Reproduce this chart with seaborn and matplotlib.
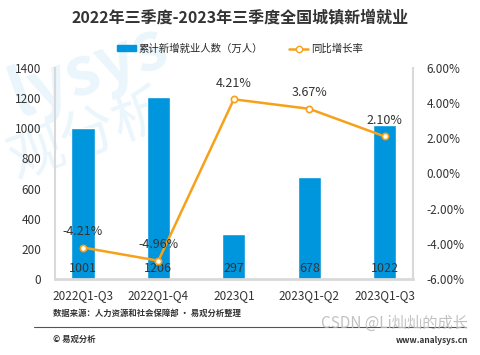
import matplotlib
matplotlib.use("Agg")
import matplotlib.pyplot as plt
import seaborn as sns
import pandas as pd
from matplotlib.lines import Line2D
from matplotlib.patches import Patch

sns.set_theme(style="white")
plt.rcParams['font.family'] = ['Noto Sans CJK SC', 'DejaVu Sans']

categories = ["2022Q1-Q3", "2022Q1-Q4", "2023Q1", "2023Q1-Q2", "2023Q1-Q3"]
employment = [1001, 1206, 297, 678, 1022]
growth = [-4.21, -4.96, 4.21, 3.67, 2.10]
left_ticks = [0, 200, 400, 600, 800, 1000, 1200, 1400]
right_ticks = [-6, -4, -2, 0, 2, 4, 6]

bar_color = "#0096DE"
line_color = "#F7A11A"

df = pd.DataFrame({"cat": categories, "emp": employment, "g": growth})

fig = plt.figure(figsize=(4.8, 3.55), dpi=100)
ax = fig.add_axes([0.1146, 0.214, 0.745, 0.595])

# watermark (behind everything)
fig.text(0.0, 0.80, "lysys", fontsize=48, color="#EAF5FC", rotation=20,
         fontweight="bold", zorder=-10, ha="left", va="center")
fig.text(0.0, 0.62, "观分析", fontsize=40, color="#EAF5FC", rotation=20,
         zorder=-10, ha="left", va="center")
ax.patch.set_alpha(0)

sns.barplot(data=df, x="cat", y="emp", color=bar_color, width=0.31,
            saturation=1, ax=ax, zorder=2)
ax.set_ylim(0, 1400)
ax.set_yticks(left_ticks)
ax.set_xlabel("")
ax.set_ylabel("")
ax.tick_params(axis="y", labelsize=8.5, colors="#333333", length=0, pad=10)
ax.tick_params(axis="x", labelsize=8.5, colors="#333333", length=0, pad=7)
for s in ["top", "right"]:
    ax.spines[s].set_visible(False)
for s in ["left", "bottom"]:
    ax.spines[s].set_color("#D9D9D9")
ax.spines["bottom"].set_linewidth(2)
ax.spines["left"].set_linewidth(1.5)

for i, v in enumerate(employment):
    ax.text(i, 70, str(v), ha="center", va="center", fontsize=9, color="#333333", zorder=5)

ax2 = ax.twinx()
sns.lineplot(x=list(range(len(categories))), y=growth, ax=ax2, color=line_color,
             linewidth=1.8, marker="o", markersize=4.5, markerfacecolor="white",
             markeredgecolor=line_color, markeredgewidth=1.2, zorder=4)
ax2.set_ylim(-6, 6)
ax2.set_yticks(right_ticks)
ax2.set_yticklabels([f"{t:.2f}%" for t in right_ticks])
ax2.tick_params(axis="y", labelsize=8.5, colors="#333333", length=0, pad=10)
for s in ["top", "left", "bottom"]:
    ax2.spines[s].set_visible(False)
ax2.spines["right"].set_color("#D9D9D9")
ax2.spines["right"].set_linewidth(1.5)
ax2.set_xlim(ax.get_xlim())

for i, g in enumerate(growth):
    ax2.text(i, g + 0.55, f"{g:.2f}%", ha="center", va="bottom", fontsize=9,
             color="#333333", zorder=5)

fig.text(0.5, 0.952, "2022年三季度-2023年三季度全国城镇新增就业", ha="center",
         va="center", fontsize=11.5, fontweight="bold", color="#333333")

handles = [Patch(color=bar_color),
           Line2D([0], [0], color=line_color, lw=1.8, marker="o", markersize=4.5,
                  markerfacecolor="white", markeredgecolor=line_color)]
fig.legend(handles, ["累计新增就业人数（万人）", "同比增长率"], loc="center",
           bbox_to_anchor=(0.5, 0.862), ncol=2, frameon=False, fontsize=7.5,
           handlelength=1.8, handleheight=0.5, columnspacing=2.5, handletextpad=0.3)

fig.text(0.11, 0.118, "数据来源：人力资源和社会保障部 · 易观分析整理", fontsize=6,
         fontweight="bold", color="#333333", va="center")
fig.add_artist(Line2D([0.07, 0.97], [0.079, 0.079], color="#555555", lw=0.8))
fig.text(0.11, 0.045, "© 易观分析", fontsize=6, fontweight="bold", color="#333333", va="center")
fig.text(0.9, 0.042, "www.analysys.cn", fontsize=6, fontweight="bold", color="#333333",
         va="center", ha="center")
fig.text(0.975, 0.09, "CSDN @Li灿灿的成长", fontsize=11, color="#BBBBBB",
         ha="right", va="center", alpha=0.9)

fig.savefig("out.png", dpi=100)
